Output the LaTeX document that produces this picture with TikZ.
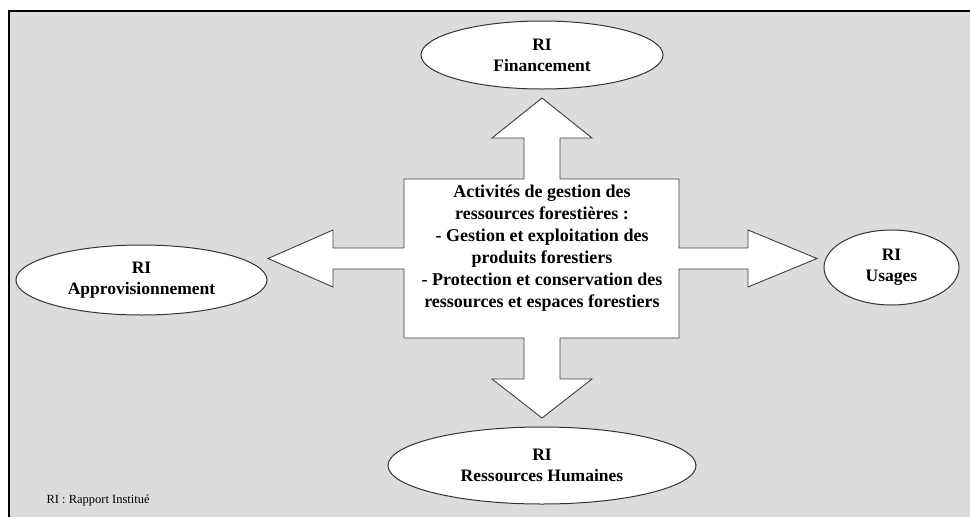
\documentclass[tikz,border=0pt]{standalone}
\usepackage{fontspec}
\setmainfont{Liberation Serif}
\usepackage{xcolor}
\usetikzlibrary{shapes.geometric}
\definecolor{fond}{HTML}{DCDCDC}

\begin{document}
\begin{tikzpicture}[x=1pt,y=-1pt,
    ri/.style={ellipse, draw=black!80, line width=1pt, fill=white, align=center,
        inner sep=0pt, font=\fontsize{17.5}{21}\selectfont\bfseries},
    bloc/.style={draw=black!75, line width=0.9pt, fill=white}]
        \useasboundingbox (0,0) rectangle (970,517);
        % fond et cadre
        \fill[fond] (9,11) rectangle (970,517);
        \draw[line width=1.5pt] (9,517) -- (9,11) -- (970,11);
        % bloc central avec les quatre fleches
        \draw[bloc] (404,179) -- (524,179) -- (524,138) -- (492,138) -- (542,98)
            -- (592,138) -- (560,138) -- (560,179) -- (679,179) -- (679,248)
            -- (748,248) -- (748,230) -- (817,258.5) -- (748,287) -- (748,269)
            -- (679,269) -- (679,338) -- (560,338) -- (560,379) -- (592,379)
            -- (542,418) -- (492,379) -- (524,379) -- (524,338) -- (404,338)
            -- (404,269) -- (333,269) -- (333,287) -- (268,258.5) -- (333,230)
            -- (333,248) -- (404,248) -- cycle;
        \node[align=center, font=\fontsize{18}{22}\selectfont\bfseries] (act) at (542,248.5)
            {Activités de gestion des\\ressources forestières :\\- Gestion et exploitation des\\produits forestiers\\- Protection et conservation des\\ressources et espaces forestiers};
        % rapports institues
        \node[ri, minimum width=242, minimum height=68] (fin) at (542,55) {RI\\Financement};
        \node[ri, minimum width=308, minimum height=77] (rh) at (542,465.5) {RI\\Ressources Humaines};
        \node[ri, minimum width=251, minimum height=70] (appro) at (141.5,280) {RI\\Approvisionnement};
        \node[ri, minimum width=135, minimum height=75] (usa) at (891.5,267.5) {RI\\Usages};
        % legende
        \node[anchor=west, font=\fontsize{12.5}{14}\selectfont] (leg) at (43,500) {RI : Rapport Institué};
    \end{tikzpicture}
\end{document}
